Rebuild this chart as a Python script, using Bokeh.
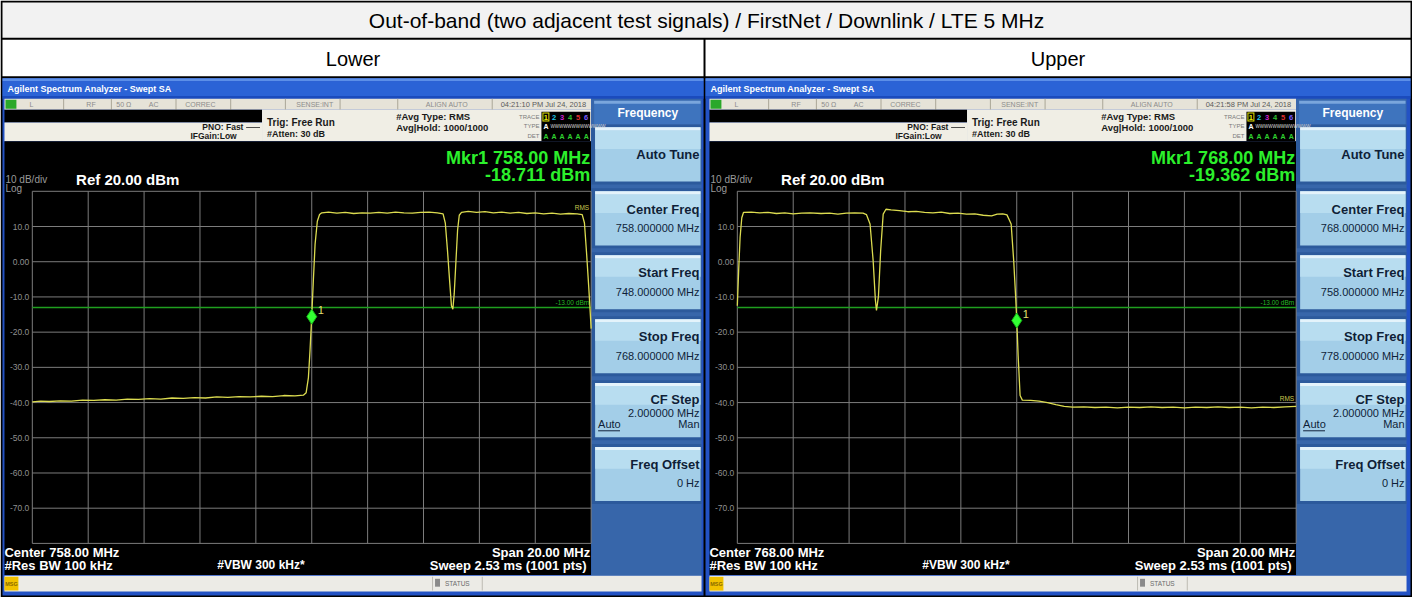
from bokeh.plotting import figure
from bokeh.models import Range1d
from bokeh.embed import file_html
from bokeh.resources import INLINE
from bokeh.core.properties import value

# ---------------- data ----------------
TITLE = "Out-of-band (two adjacent test signals) / FirstNet / Downlink / LTE 5 MHz"
COLUMN_LABELS = ["Lower", "Upper"]
CENTER_MHZ = [758.0, 768.0]
SPAN_MHZ = 20.0
N_DIV = 10
REF_LEVEL_DBM = 20.0
DB_PER_DIV = 10.0
DISPLAY_LINE_DBM = -13.0
Y_TICK_VALUES = [10, 0, -10, -20, -30, -40, -50, -60, -70]
Y_TICK_LABELS = ["10.0", "0.00", "-10.0", "-20.0", "-30.0", "-40.0", "-50.0", "-60.0", "-70.0"]
TIMESTAMPS = ["04:21:10 PM Jul 24, 2018", "04:21:58 PM Jul 24, 2018"]
MARKER_FREQ = [758.0, 768.0]
MARKER_DRAWN_DBM = [-15.6, -16.7]
MARKER_READOUT = ["-18.711 dBm", "-19.362 dBm"]
RMS_LABEL_DBM = [15.5, -38.8]

lower_freq = [748.0, 748.3, 748.6, 749.0, 749.4, 749.8, 750.2, 750.6, 751.0, 751.4, 751.8, 752.2,
              752.6, 753.0, 753.4, 753.8, 754.2, 754.6, 755.0, 755.4, 755.8, 756.2, 756.6, 757.0,
              757.4, 757.7, 757.8, 757.88, 757.94, 758.0, 758.06, 758.12, 758.2, 758.28, 758.36,
              758.6, 758.9, 759.2, 759.5, 759.8, 760.1, 760.4, 760.7, 761.0, 761.3, 761.6, 761.9,
              762.2, 762.5, 762.7, 762.78, 762.86, 762.94, 763.0, 763.05, 763.1, 763.16, 763.22,
              763.28, 763.36, 763.6, 763.9, 764.2, 764.5, 764.8, 765.1, 765.4, 765.7, 766.0, 766.3,
              766.6, 766.9, 767.2, 767.5, 767.68, 767.76, 767.84, 767.92, 768.0]
lower_dbm = [-39.8, -39.6, -39.7, -39.5, -39.6, -39.3, -39.4, -39.2, -39.3, -39.0, -39.1, -38.9,
             -39.0, -38.7, -38.8, -38.6, -38.7, -38.4, -38.5, -38.3, -38.4, -38.2, -38.3, -38.0,
             -38.1, -37.9, -37.2, -33.0, -25.0, -15.5, -5.0, 5.0, 11.5, 13.4, 13.9,
             14.1, 13.8, 14.0, 13.7, 13.9, 13.8, 14.0, 13.8, 14.1, 13.9, 13.8, 14.0,
             14.1, 13.9, 13.6, 11.0, 3.0, -6.0, -12.5, -13.5, -9.0, 0.0, 9.0,
             13.2, 14.0, 14.3, 14.0, 14.2, 13.9, 14.1, 13.8, 14.0, 13.7, 13.9, 13.6,
             13.8, 13.5, 13.7, 13.6, 13.4, 11.0, 2.0, -8.0, -19.0]

upper_freq = [758.0, 758.05, 758.1, 758.16, 758.22, 758.5, 758.8, 759.1, 759.4, 759.7, 760.0, 760.3,
              760.6, 761.0, 761.3, 761.6, 761.9, 762.2, 762.5, 762.62, 762.75, 762.86, 762.94,
              762.98, 763.05, 763.13, 763.22, 763.32, 763.5, 763.8, 764.1, 764.4, 764.7, 765.0,
              765.3, 765.6, 765.9, 766.2, 766.5, 766.8, 767.1, 767.3, 767.5, 767.65, 767.8, 767.89,
              767.96, 768.0, 768.05, 768.12, 768.2, 768.5, 768.8, 769.1, 769.4, 769.7, 770.0,
              770.4, 770.8, 771.2, 771.6, 772.0, 772.4, 772.8, 773.2, 773.6, 774.0, 774.4, 774.8,
              775.2, 775.6, 776.0, 776.4, 776.8, 777.2, 777.6, 778.0]
upper_dbm = [-12.5, -2.0, 7.0, 12.5, 14.0, 14.1, 13.9, 14.0, 13.7, 13.9, 13.6, 13.8,
             13.9, 13.7, 13.8, 13.5, 13.8, 13.9, 13.8, 13.4, 10.7, 0.4, -10.8,
             -13.8, -9.9, 3.2, 13.5, 14.9, 14.7, 14.5, 14.2, 14.3, 14.0, 13.9,
             14.1, 13.7, 13.8, 13.5, 13.6, 13.2, 13.0, 13.5, 13.6, 13.3, 10.7, 0.4,
             -9.9, -16.4, -26.7, -38.0, -39.3, -39.4, -39.6, -40.0, -40.6, -41.1, -41.3,
             -41.2, -41.4, -41.3, -41.5, -41.3, -41.4, -41.2, -41.4, -41.3, -41.5, -41.3, -41.4,
             -41.2, -41.4, -41.3, -41.5, -41.3, -41.4, -41.2, -41.1]

TRACE_FREQ = [lower_freq, upper_freq]
TRACE_DBM = [lower_dbm, upper_dbm]

# ---------------- layout (reference pixel space) ----------------
FONT = "Liberation Sans"
W, H = 1412, 597
X_LO, X_HI, Y_TOP, Y_BOT = 4, 1424, 4, 611
GX0, GX1, GY0, GY1 = 36, 598, 198, 556
OX = [0, 709]
PANEL_L = [6, 713]
PANEL_R = [711, 1422]

p = figure(width=W, height=H, x_range=Range1d(X_LO, X_HI), y_range=Range1d(Y_BOT, Y_TOP),
           output_backend="svg", toolbar_location=None, tools="",
           x_axis_location=None, y_axis_location=None, min_border=0)
p.outline_line_color = None
p.background_fill_color = "white"
p.border_fill_color = "white"

QL, QR, QT, QB, QC = [], [], [], [], []


def box(l, t, r, b, c):
    QL.append(l); QR.append(r); QT.append(t); QB.append(b); QC.append(c)


TEXTS = []


def txt(x, y, s, size, color, align="left", bold=False, font=FONT):
    TEXTS.append((x, y, s, size, color, align, bold, font))


# table
box(4, 4, 1424, 611, "#000000")
box(6, 6, 1422, 42, "#f2f2f2")
box(6, 44, 711, 81, "#ffffff")
box(713, 44, 1422, 81, "#ffffff")
txt(714, 24.5, TITLE, 21, "#000000", "center")
txt((6 + 711) / 2, 63, COLUMN_LABELS[0], 20, "#000000", "center")
txt((713 + 1422) / 2, 63, COLUMN_LABELS[1], 20, "#000000", "center")

STATUS_ITEMS = [(35, "L"), (95, "RF"), (128, "50 \u03a9"), (158, "AC"), (205, "CORREC"),
                (320, "SENSE:INT"), (453, "ALIGN AUTO")]
STATUS_DIVS = [67, 115, 180, 235, 290, 345, 403, 498]
TRACE_NUM_COLORS = ["#e8e800", "#20c8e8", "#d020d0", "#30c030", "#e03030", "#7a5cff"]

for i in range(2):
    ox = OX[i]
    L, R = PANEL_L[i], PANEL_R[i]
    c = CENTER_MHZ[i]
    f0, f1 = c - SPAN_MHZ / 2, c + SPAN_MHZ / 2
    # window frame and XP title bar
    box(L, 83, R, 609, "#2352c4")
    box(L, 83, R, 86, "#5c8fe8")
    box(L, 86, R, 101, "#2b63d6")
    box(L, 101, R, 104, "#1b4bbd")
    txt(L + 5, 94, "Agilent Spectrum Analyzer - Swept SA", 9, "#ffffff", bold=True)
    # status row
    box(8 + ox, 104, 598 + ox, 115, "#e6e3d8")
    box(9 + ox, 105, 20 + ox, 114, "#2aa82a")
    for d in STATUS_DIVS:
        box(d + ox, 104, d + 1 + ox, 115, "#aaa697")
    for x, s in STATUS_ITEMS:
        txt(x + ox, 110, s, 7, "#8c8c8c", "center")
    txt(550 + ox, 110, TIMESTAMPS[i], 7.5, "#5a5a5a", "center")
    # black bar / beige info area
    box(8 + ox, 115, 267 + ox, 128, "#000000")
    box(267 + ox, 115, 598 + ox, 147, "#f0eee5")
    box(8 + ox, 128, 267 + ox, 147, "#f0eee5")
    txt(207 + ox, 133, "PNO: Fast", 8.5, "#1a1a1a", bold=True)
    box(251 + ox, 132.5, 265 + ox, 133.5, "#1a1a1a")
    txt(195 + ox, 141.5, "IFGain:Low", 8.5, "#1a1a1a", bold=True)
    txt(272 + ox, 128, "Trig: Free Run", 10, "#1a1a1a", bold=True)
    txt(272 + ox, 140, "#Atten: 30 dB", 9, "#1a1a1a", bold=True)
    txt(402 + ox, 122, "#Avg Type: RMS", 9.5, "#1a1a1a", bold=True)
    txt(402 + ox, 133, "Avg|Hold: 1000/1000", 9.5, "#1a1a1a", bold=True)
    txt(546 + ox, 122, "TRACE", 6, "#7a7a7a", "right")
    txt(546 + ox, 132, "TYPE", 6, "#7a7a7a", "right")
    txt(546 + ox, 142, "DET", 6, "#7a7a7a", "right")
    box(548 + ox, 117, 597 + ox, 147, "#000000")
    box(549 + ox, 118, 556 + ox, 127, "#e8e800")
    box(550 + ox, 119, 555 + ox, 126, "#000000")
    for k, col in enumerate(TRACE_NUM_COLORS):
        txt(552.5 + 8.1 * k + ox, 122.5, str(k + 1), 7.5, col, "center", bold=True)
        txt(552.5 + 8.1 * k + ox, 142, "A", 7, "#30d030", "center", bold=True)
    txt(552.5 + ox, 132, "A", 7, "#ffffff", "center", bold=True)
    txt(557 + ox, 132, "WWWWWWWWWWWWW", 4.5, "#dddddd")
    # display
    box(8 + ox, 147, 598 + ox, 588, "#000000")
    txt(597 + ox, 164, "Mkr1 %.2f MHz" % MARKER_FREQ[i], 18, "#2cf02c", "right", bold=True)
    txt(597 + ox, 181, MARKER_READOUT[i], 18, "#2cf02c", "right", bold=True)
    txt(9 + ox, 186, "10 dB/div", 10, "#9a9a9a")
    txt(9 + ox, 195.5, "Log", 10, "#9a9a9a")
    txt(80 + ox, 186, "Ref %.2f dBm" % REF_LEVEL_DBM, 15, "#ffffff", bold=True)
    txt(8 + ox, 565, "Center %.2f MHz" % c, 13, "#ffffff", bold=True)
    txt(8 + ox, 578, "#Res BW 100 kHz", 13, "#ffffff", bold=True)
    txt(222 + ox, 578, "#VBW 300 kHz*", 12, "#ffffff", bold=True)
    txt(597 + ox, 565, "Span %.2f MHz" % SPAN_MHZ, 13, "#ffffff", "right", bold=True)
    txt(597 + ox, 578, "Sweep  2.53 ms (1001 pts)", 13, "#ffffff", "right", bold=True)
    # softkey panel
    box(598 + ox, 104, 709 + ox, 589, "#3766aa")
    box(601 + ox, 106, 708 + ox, 130, "#3e74be")
    box(601 + ox, 106, 708 + ox, 109, "#7aa6dc")
    txt(655 + ox, 118.5, "Frequency", 12, "#ffffff", "center", bold=True)
    for k in range(6):
        top = 133 + 65 * k
        box(598 + ox, top - 3, 709 + ox, top + 58, "#2c5a9c")
        box(602 + ox, top, 708 + ox, top + 55, "#a3cee8")
        box(602 + ox, top + 3, 708 + ox, top + 22, "#b8ddf0")
        box(602 + ox, top, 708 + ox, top + 3, "#e4f3fb")
    SK = "#0f1f38"
    txt(707 + ox, 161, "Auto Tune", 13, SK, "right", bold=True)
    txt(707 + ox, 216, "Center Freq", 13, SK, "right", bold=True)
    txt(707 + ox, 235, "%.6f MHz" % c, 11, SK, "right")
    txt(707 + ox, 281, "Start Freq", 13, SK, "right", bold=True)
    txt(707 + ox, 300, "%.6f MHz" % f0, 11, SK, "right")
    txt(707 + ox, 346, "Stop Freq", 13, SK, "right", bold=True)
    txt(707 + ox, 365, "%.6f MHz" % f1, 11, SK, "right")
    txt(707 + ox, 410, "CF Step", 13, SK, "right", bold=True)
    txt(707 + ox, 423, "2.000000 MHz", 11, SK, "right")
    txt(605 + ox, 435, "Auto", 11, SK)
    box(605 + ox, 441, 627 + ox, 442, SK)
    txt(707 + ox, 435, "Man", 11, SK, "right")
    txt(707 + ox, 476, "Freq Offset", 13, SK, "right", bold=True)
    txt(707 + ox, 495, "0 Hz", 11, SK, "right")
    # message bar
    box(8 + ox, 589, 709 + ox, 605, "#ecebe6")
    box(8 + ox, 590, 22 + ox, 604, "#f2c200")
    txt(15 + ox, 597, "MSG", 5.5, "#8a6a00", "center", bold=True)
    box(438 + ox, 590, 439 + ox, 604, "#bdbbb3")
    box(488 + ox, 590, 489 + ox, 604, "#bdbbb3")
    box(441 + ox, 592, 446 + ox, 600, "#8a8a8a")
    txt(451 + ox, 597, "STATUS", 6.5, "#6a6a6a")

p.quad(left=QL, right=QR, top=QT, bottom=QB, fill_color=QC, line_color=None)

# ---------------- spectrum data drawn through per-panel scales ----------------
mhz_per_px = SPAN_MHZ / (GX1 - GX0)
db_per_px = N_DIV * DB_PER_DIV / (GY1 - GY0)
xr, yr = {}, {}
for i in range(2):
    fstart = CENTER_MHZ[i] - SPAN_MHZ / 2
    xr["f%d" % i] = Range1d(fstart + (X_LO - (GX0 + OX[i])) * mhz_per_px,
                            fstart + (X_HI - (GX0 + OX[i])) * mhz_per_px)
    yr["d%d" % i] = Range1d(REF_LEVEL_DBM - (Y_BOT - GY0) * db_per_px,
                            REF_LEVEL_DBM - (Y_TOP - GY0) * db_per_px)
p.extra_x_ranges = xr
p.extra_y_ranges = yr

for i in range(2):
    xn, yn = "f%d" % i, "d%d" % i
    f0 = CENTER_MHZ[i] - SPAN_MHZ / 2
    f1 = f0 + SPAN_MHZ
    bottom = REF_LEVEL_DBM - N_DIV * DB_PER_DIV
    vx = [f0 + k * SPAN_MHZ / N_DIV for k in range(N_DIV + 1)]
    hy = [REF_LEVEL_DBM - j * DB_PER_DIV for j in range(N_DIV + 1)]
    p.segment(x0=vx, y0=[bottom] * len(vx), x1=vx, y1=[REF_LEVEL_DBM] * len(vx),
              x_range_name=xn, y_range_name=yn, line_color="#7c7c7c", line_width=1)
    p.segment(x0=[f0] * len(hy), y0=hy, x1=[f1] * len(hy), y1=hy,
              x_range_name=xn, y_range_name=yn, line_color="#7c7c7c", line_width=1)
    p.line([f0, f1], [DISPLAY_LINE_DBM, DISPLAY_LINE_DBM], x_range_name=xn, y_range_name=yn,
           line_color="#1f9f1f", line_width=1.4)
    p.line(TRACE_FREQ[i], TRACE_DBM[i], x_range_name=xn, y_range_name=yn,
           line_color="#dcdc50", line_width=1.3)
    p.scatter([MARKER_FREQ[i]], [MARKER_DRAWN_DBM[i]], marker="diamond", size=15,
              x_range_name=xn, y_range_name=yn, fill_color="#33ff33", line_color="#18b818")
    p.text([MARKER_FREQ[i]], [MARKER_DRAWN_DBM[i]], text=["1"], x_range_name=xn, y_range_name=yn,
           x_offset=6, y_offset=-7, text_font=value(FONT), text_font_size="11px",
           text_color="#e6e070", text_baseline="middle", text_align="left")
    p.text([f0] * len(Y_TICK_VALUES), Y_TICK_VALUES, text=Y_TICK_LABELS,
           x_range_name=xn, y_range_name=yn, x_offset=-3, text_font=value(FONT),
           text_font_size="8.5px", text_color="#8f8f8f", text_align="right",
           text_baseline="middle")
    p.text([f1], [DISPLAY_LINE_DBM], text=["%.2f dBm" % DISPLAY_LINE_DBM],
           x_range_name=xn, y_range_name=yn, x_offset=-2, y_offset=-5,
           text_font=value(FONT), text_font_size="6.5px", text_color="#25b825",
           text_align="right", text_baseline="middle")
    p.text([f1], [RMS_LABEL_DBM[i]], text=["RMS"], x_range_name=xn, y_range_name=yn,
           x_offset=-2, text_font=value(FONT), text_font_size="6.5px", text_color="#c8c850",
           text_align="right", text_baseline="middle")

for (x, y, s, size, color, align, bold, font) in TEXTS:
    p.text([x], [y], text=[s], text_font=value(font), text_font_size="%spx" % size,
           text_color=color, text_align=align, text_baseline="middle",
           text_font_style="bold" if bold else "normal")

open("out.html", "w").write(file_html(p, INLINE))
